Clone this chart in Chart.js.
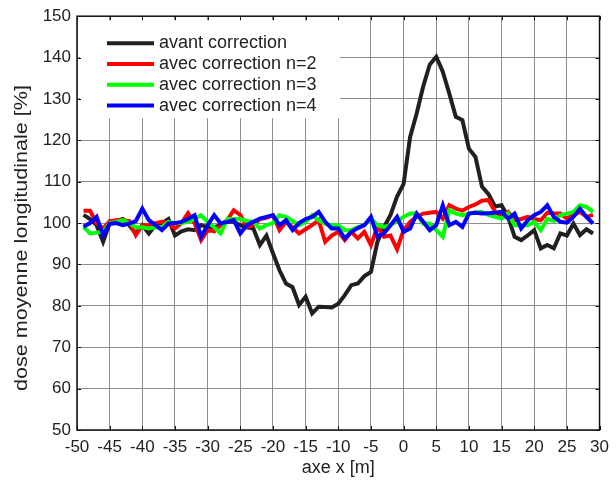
<!DOCTYPE html>
<html>
<head>
<meta charset="utf-8">
<script src="https://cdn.jsdelivr.net/npm/chart.js@4.4.1/dist/chart.umd.min.js"></script>
<style>
  html, body { margin: 0; padding: 0; background: #fff; }
  canvas { display: block; }
</style>
</head>
<body>
<canvas id="chart" width="616" height="481"></canvas>
<script>
// positions along the axis (m), one sample per metre
var xPositions = [
  -49, -48, -47, -46, -45, -44, -43, -42, -41, -40,
  -39, -38, -37, -36, -35, -34, -33, -32, -31, -30,
  -29, -28, -27, -26, -25, -24, -23, -22, -21, -20,
  -19, -18, -17, -16, -15, -14, -13, -12, -11, -10,
  -9, -8, -7, -6, -5, -4, -3, -2, -1, 0,
  1, 2, 3, 4, 5, 6, 7, 8, 9, 10,
  11, 12, 13, 14, 15, 16, 17, 18, 19, 20,
  21, 22, 23, 24, 25, 26, 27, 28, 29
];

// dose values (%)
var avantCorrection = [
  102, 101, 99.5, 95.5, 100, 100.5, 101, 99.5, 97.5, 99.5,
  97.5, 99.5, 100, 101, 97, 98, 98.5, 98.3, 99.5, 99,
  99, 99.5, 100.3, 100.3, 99.5, 99, 98.7, 94.7, 97, 92.7,
  88.6, 85.4, 84.5, 80.2, 82.2, 78.2, 79.8, 79.7, 79.6, 80.5,
  82.6, 85, 85.4, 87.2, 88.2, 95.5, 99, 102, 106.4, 109.5,
  120.8, 126.5, 133, 138.3, 140.2, 136.6, 131.3, 125.7, 124.9, 118,
  116, 108.8, 107, 104, 104.3, 101.5, 96.7, 95.9, 97, 98.3,
  93.9, 94.7, 93.9, 97.5, 97, 99.9, 97.1, 98.5, 97.5
];
var correctionN2 = [
  103, 103, 100, 98.7, 100.5, 100.7, 100.7, 100.5, 97.1, 99.5,
  99.5, 100, 100.3, 100, 98.7, 100, 102.4, 100, 95.9, 98.3,
  98, 99.5, 100.7, 103.1, 102, 99.1, 99.5, 101, 101.3, 101.9,
  98.3, 100.3, 99, 97.5, 98.5, 99.5, 100.7, 95.5, 97, 97.9,
  95.9, 97.9, 96.3, 97.9, 94.7, 99.1, 96.7, 97, 93.7, 98.3,
  100.3, 101.5, 102.3, 102.5, 102.7, 101.1, 104.3, 103.5, 103, 103.9,
  104.5, 105.4, 105.6, 102.8, 101.5, 102.7, 100.7, 101, 101.5, 101,
  100.7, 102.5, 102.3, 102.3, 101.1, 102, 102.7, 101.5, 102
];
var correctionN3 = [
  99.1, 97.5, 97.7, 97.9, 100, 100.3, 100.7, 100, 99, 99,
  98.7, 99, 99, 100.3, 100, 100, 100.3, 101, 101.9, 100.3,
  99, 97.5, 101, 101, 101, 100.5, 100.3, 98.7, 99.5, 100,
  101.9, 101.5, 100.5, 99.5, 100.3, 101.9, 100.7, 99.8, 99.5, 99.5,
  98.3, 98.3, 99, 99.5, 101.1, 99.5, 99.1, 99.5, 100.5, 101.5,
  102.3, 102.3, 99.9, 99.9, 98.3, 96.7, 103.1, 102.3, 101.9, 102.3,
  102.6, 102.7, 102, 101.5, 101.1, 102.3, 99.5, 99.5, 99.5, 100.3,
  98.3, 101, 100.5, 101.9, 102.3, 102.7, 104.3, 103.9, 102.7
];
var correctionN4 = [
  99.1, 100, 101.5, 97.1, 99.8, 100, 99.5, 99.9, 100.5, 103.5,
  100.7, 99.5, 98.3, 99.9, 100, 100.3, 101, 101.9, 96.7, 99.5,
  101.9, 99.9, 100.3, 100.7, 97.5, 99.5, 100.3, 101.1, 101.5, 101.9,
  99.5, 100.7, 98.3, 100, 101, 101.5, 102.7, 100.3, 98.7, 98.7,
  96.3, 97.9, 98.8, 99.5, 101.5, 96.7, 97.5, 99.5, 101.5, 97.9,
  98.7, 102.3, 100.3, 98.3, 99.5, 104.3, 99.5, 100.3, 99.1, 102.3,
  102.5, 102.3, 102.4, 102.5, 102.7, 101.1, 102.3, 98.7, 100.7, 101.9,
  102.7, 104.3, 101.5, 100.3, 100.1, 101.5, 103.5, 101.5, 99.9
];

var seriesLabels = [
  "avant correction",
  "avec correction n=2",
  "avec correction n=3",
  "avec correction n=4"
];
var seriesValues = [avantCorrection, correctionN2, correctionN3, correctionN4];
var seriesColors = ["#231f20", "#ff0000", "#00ff00", "#0000ff"];

var xTitle = "axe x [m]";
var yTitle = "dose moyenne longitudinale [%]";

var fontFamily = "'Liberation Sans', Arial, sans-serif";

// pair each series with the x positions
function toPoints(values) {
  return values.map(function (v, i) {
    return { x: xPositions[i], y: v };
  });
}

// frame around the plot area and the small inward tick marks
var frameTicks = {
  id: "frameTicks",
  afterDraw: function (chart) {
    var ctx = chart.ctx;
    var a = chart.chartArea;
    var xs = chart.scales.x;
    var ys = chart.scales.y;
    var len = 4;
    ctx.save();
    ctx.strokeStyle = "#111";
    ctx.lineWidth = 1;
    ctx.beginPath();
    xs.ticks.forEach(function (t) {
      var px = Math.round(xs.getPixelForValue(t.value)) + 0.5;
      ctx.moveTo(px, a.bottom);
      ctx.lineTo(px, a.bottom - len);
      ctx.moveTo(px, a.top);
      ctx.lineTo(px, a.top + len);
    });
    ys.ticks.forEach(function (t) {
      var py = Math.round(ys.getPixelForValue(t.value)) + 0.5;
      ctx.moveTo(a.left, py);
      ctx.lineTo(a.left + len, py);
      ctx.moveTo(a.right, py);
      ctx.lineTo(a.right - len, py);
    });
    ctx.stroke();
    ctx.lineWidth = 1.5;
    ctx.strokeRect(a.left, a.top, a.right - a.left, a.bottom - a.top);
    ctx.restore();
  }
};

// vertical y axis title, a little longer than the plain font gives
var yAxisTitle = {
  id: "yAxisTitle",
  afterDraw: function (chart) {
    var ctx = chart.ctx;
    ctx.save();
    ctx.font = "18px " + fontFamily;
    ctx.fillStyle = "#222";
    ctx.textAlign = "center";
    ctx.textBaseline = "middle";
    var w = ctx.measureText(yTitle).width;
    ctx.translate(22, 238);
    ctx.rotate(-Math.PI / 2);
    ctx.scale(306 / w, 1);
    ctx.fillText(yTitle, 0, 0);
    ctx.restore();
  }
};

// legend box in the upper left corner, white background over the grid
var boxLegend = {
  id: "boxLegend",
  afterDatasetsDraw: function (chart) {
    var ctx = chart.ctx;
    var a = chart.chartArea;
    var x0 = a.left + 3;
    var y0 = a.top + 4;
    ctx.save();
    ctx.fillStyle = "#fff";
    ctx.fillRect(x0, y0, 260, 98);
    ctx.font = "18px " + fontFamily;
    ctx.textBaseline = "middle";
    chart.data.datasets.forEach(function (ds, i) {
      var y = y0 + 23 + i * 20.8;
      ctx.strokeStyle = ds.borderColor;
      ctx.lineWidth = 4;
      ctx.beginPath();
      ctx.moveTo(x0 + 27, y);
      ctx.lineTo(x0 + 74, y);
      ctx.stroke();
      ctx.fillStyle = "#222";
      ctx.fillText(ds.label, x0 + 79, y);
    });
    ctx.restore();
  }
};

var datasets = seriesLabels.map(function (label, i) {
  return {
    label: label,
    data: toPoints(seriesValues[i]),
    borderColor: seriesColors[i],
    backgroundColor: seriesColors[i],
    borderWidth: 4,
    pointRadius: 0,
    tension: 0,
    fill: false,
    // later series are drawn on top
    order: seriesLabels.length - i
  };
});

var chart = new Chart(document.getElementById("chart"), {
  type: "line",
  data: { datasets: datasets },
  options: {
    responsive: false,
    animation: false,
    layout: { padding: { top: 16, right: 11, left: 0, bottom: 0 } },
    plugins: {
      legend: { display: false },
      tooltip: { enabled: false }
    },
    scales: {
      x: {
        type: "linear",
        min: -50,
        max: 30,
        ticks: {
          stepSize: 5,
          padding: 7,
          color: "#222",
          font: { family: fontFamily, size: 17 },
          maxRotation: 0,
          autoSkip: false
        },
        grid: { color: "#8c8c8c", lineWidth: 1, drawTicks: false },
        border: { display: false },
        title: {
          display: true,
          text: xTitle,
          color: "#222",
          font: { family: fontFamily, size: 18 },
          padding: { top: 0, bottom: 2 }
        },
        afterFit: function (scale) { scale.height = 51; }
      },
      y: {
        min: 50,
        max: 150,
        ticks: {
          stepSize: 10,
          padding: 6,
          color: "#222",
          font: { family: fontFamily, size: 17 }
        },
        grid: { color: "#8c8c8c", lineWidth: 1, drawTicks: false },
        border: { display: false },
        title: { display: false },
        afterFit: function (scale) { scale.width = 77; }
      }
    }
  },
  plugins: [boxLegend, frameTicks, yAxisTitle]
});
</script>
</body>
</html>
